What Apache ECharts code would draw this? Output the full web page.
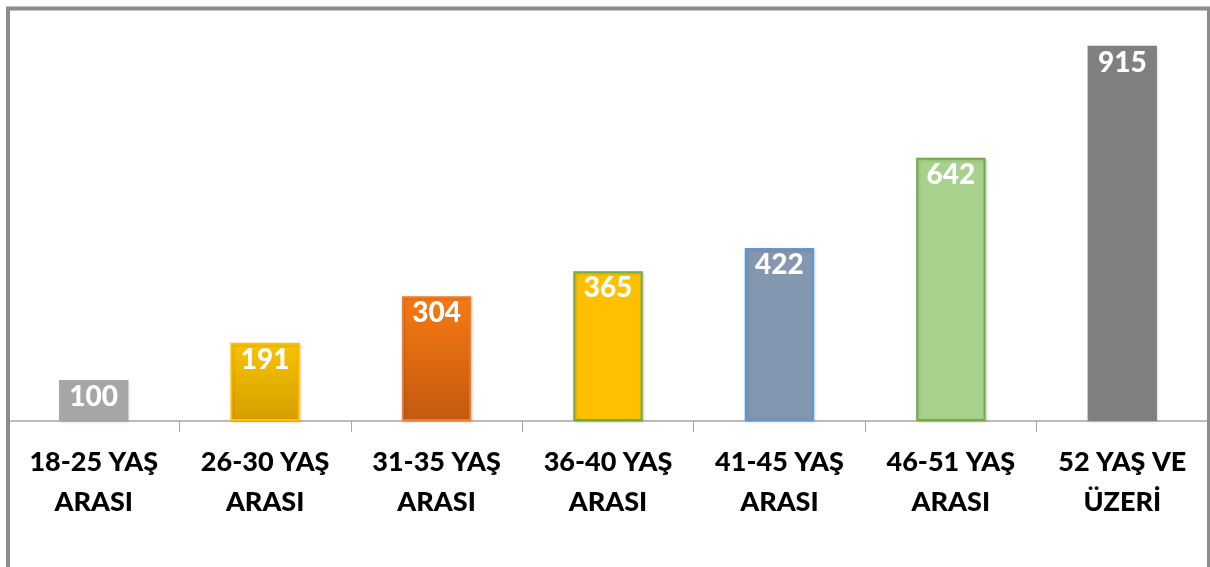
<!DOCTYPE html>
<html><head><meta charset="utf-8">
<script src="https://cdn.jsdelivr.net/npm/echarts@6/dist/echarts.min.js"></script>
<style>html,body{margin:0;padding:0;background:#fff}#c{width:1210px;height:567px}</style>
</head><body><div id="c"></div>
<script>
const categories = ['18-25 YAŞ\nARASI','26-30 YAŞ\nARASI','31-35 YAŞ\nARASI','36-40 YAŞ\nARASI','41-45 YAŞ\nARASI','46-51 YAŞ\nARASI','52 YAŞ VE\nÜZERİ'];
const values = [100,191,304,365,422,642,915];

const fills = [
  '#a6a6a6',
  {type:'linear',x:0,y:0,x2:0,y2:1,colorStops:[{offset:0,color:'#f7c400'},{offset:1,color:'#d69e00'}]},
  {type:'linear',x:0,y:0,x2:0,y2:1,colorStops:[{offset:0,color:'#f77a12'},{offset:1,color:'#c45910'}]},
  '#ffc000','#8497b0','#a9d18e','#808080'
];
const borders = [null,'#ffc000','#ed7d31','#70ad47','#5b9bd5','#70ad47',null];

const chart = echarts.init(document.getElementById('c'));
chart.setOption({
  animation:false,
  grid:{left:8,right:2,top:11,bottom:146},
  xAxis:{type:'category',data:categories,boundaryGap:true,
    axisLine:{lineStyle:{color:'#a6a6a6',width:1.5}},
    axisTick:{show:true,interval:0,length:11,lineStyle:{color:'#a6a6a6'}},
    axisLabel:{interval:0,color:'#000',fontFamily:'Lato',fontWeight:900,fontSize:27,lineHeight:40,margin:21}
  },
  yAxis:{type:'value',min:0,max:1000,show:false,splitLine:{show:false}},
  series:[{type:'bar',barWidth:'40.5%',
    data:values.map((v,i)=>({value:v,itemStyle:{color:fills[i],
      borderColor:borders[i]||fills[i],borderWidth:borders[i]?2:0,
      shadowColor:'rgba(0,0,0,0.15)',shadowBlur:3,shadowOffsetX:1,shadowOffsetY:1}})),
    label:{show:true,position:'insideTop',distance:3,color:'#fff',fontFamily:'Lato',fontWeight:900,fontSize:28}
  }],
  graphic:[
    {type:'rect',shape:{x:8,y:8.5,width:1300,height:700},style:{fill:'none',stroke:'#8c8c8c',lineWidth:4},z:100},
    {type:'rect',shape:{x:1207,y:8,width:3,height:560},style:{fill:'#8c8c8c'},z:100}
  ]
});
</script></body></html>
